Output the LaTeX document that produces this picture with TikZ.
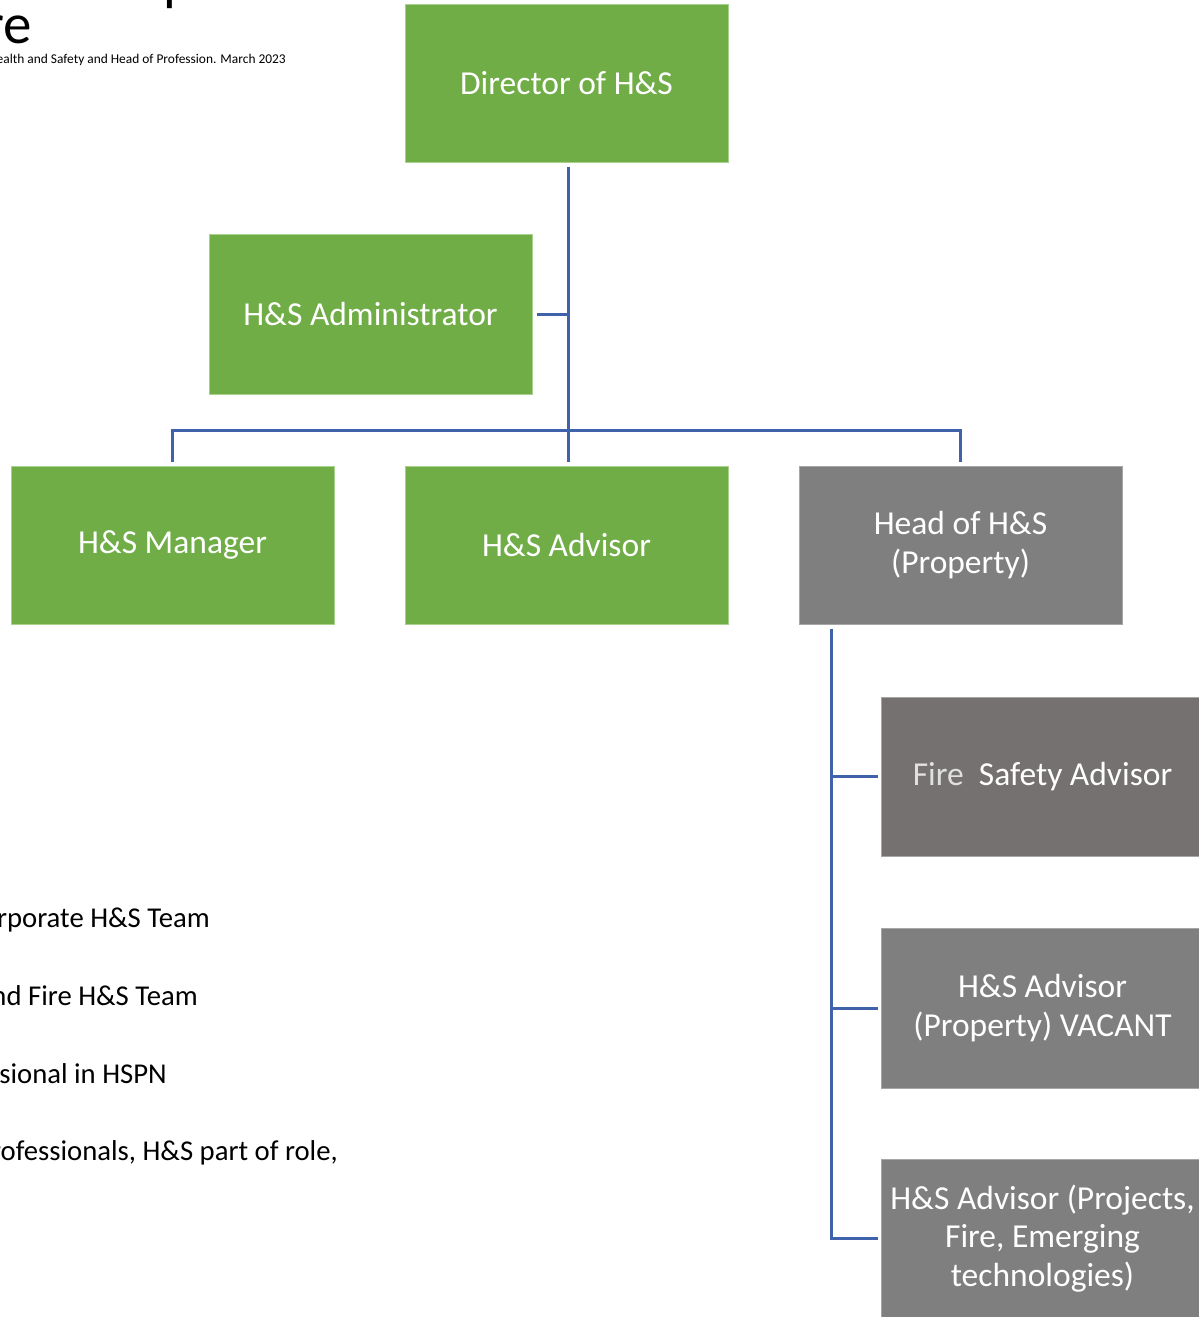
\documentclass[tikz,border=0pt]{standalone}
\usepackage{fontspec}
\setmainfont{Carlito}
\begin{document}
\begin{tikzpicture}[x=1pt,y=-1pt,
  greenbox/.style={rectangle, fill=boxgreen, draw=boxgreenline, line width=1pt,
    minimum width=323pt, minimum height=158pt, inner sep=0pt, text=white,
    align=center, font=\fontsize{33.5}{38.5}\selectfont},
  graybox/.style={greenbox, fill=boxgray, draw=boxgrayline},
  conn/.style={draw=connblue, line width=3pt},
  legend/.style={anchor=base east, inner sep=0pt, font=\fontsize{28.7}{33}\selectfont, text=black}
]
\definecolor{boxgreen}{HTML}{70AD47}
\definecolor{boxgreenline}{HTML}{A9D18E}
\definecolor{boxgray}{HTML}{7F7F7F}
\definecolor{boxgrayline}{HTML}{A6A6A6}
\definecolor{boxdark}{HTML}{767171}
\definecolor{connblue}{HTML}{3F62AA}

\useasboundingbox (0,0) rectangle (1199,1317);
\clip (0,0) rectangle (1199,1317);

% title fragments
\node[anchor=base east, inner sep=0pt, font=\fontsize{57}{64}\selectfont] (ttl) at (32,43) {Structure};
\node[anchor=base west, inner sep=0pt, font=\fontsize{57}{64}\selectfont] (ttlp) at (163,0) {p};
\node[anchor=base east, inner sep=0pt, font=\fontsize{13.4}{15}\selectfont] (sub) at (286,63) {Health and Safety and Head of Profession. March 2023};

% boxes
\node[greenbox] (dir) at (566.5,83) {Director of H\&S};
\node[greenbox, minimum height=160pt] (adm) at (370.5,314) {H\&S Administrator};
\node[greenbox] (man) at (172.5,545) {H\&S Manager};
\node[greenbox] (adv) at (566.5,545) {H\&S Advisor};
\node[graybox] (head) at (960.5,545) {Head of H\&S\\(Property)};
\node[graybox, fill=boxdark, minimum height=159pt] (fire) at (1042.5,776.5) {{\color{white!88!black}Fire}\ \ Safety Advisor};
\node[graybox, minimum height=160pt] (vac) at (1042.5,1008) {H\&S Advisor\\(Property) VACANT};
\node[graybox] (proj) at (1042.5,1238.5) {H\&S Advisor (Projects,\\Fire, Emerging\\technologies)};

% legend texts
\node[legend] (l1) at (210,927) {Corporate H\&S Team};
\node[legend] (l2) at (198,1005) {Property and Fire H\&S Team};
\node[legend] (l3) at (167,1083) {H\&S Professional in HSPN};
\node[legend] (l4) at (338,1160) {Other professionals, H\&S part of role,};

% connectors
\coordinate (j) at (568,430);
\coordinate (dbot) at ([yshift=-4pt]dir.south);
\coordinate (atop) at ([yshift=4pt]adv.north);
\coordinate (r) at ([xshift=33pt,yshift=-4pt]head.south west);
\draw[conn] (j |- dbot) -- (j |- atop);
\draw[conn] ([xshift=4pt]adm.east) -- (adm.east -| j);
\draw[conn] ([yshift=4pt]man.north) |- (j) -| ([yshift=4pt]head.north);
\draw[conn] (r) |- ([xshift=-3pt]proj.west);
\draw[conn] (r |- fire.west) -- ([xshift=-3pt]fire.west);
\draw[conn] (r |- vac.west) -- ([xshift=-3pt]vac.west);
\end{tikzpicture}
\end{document}
